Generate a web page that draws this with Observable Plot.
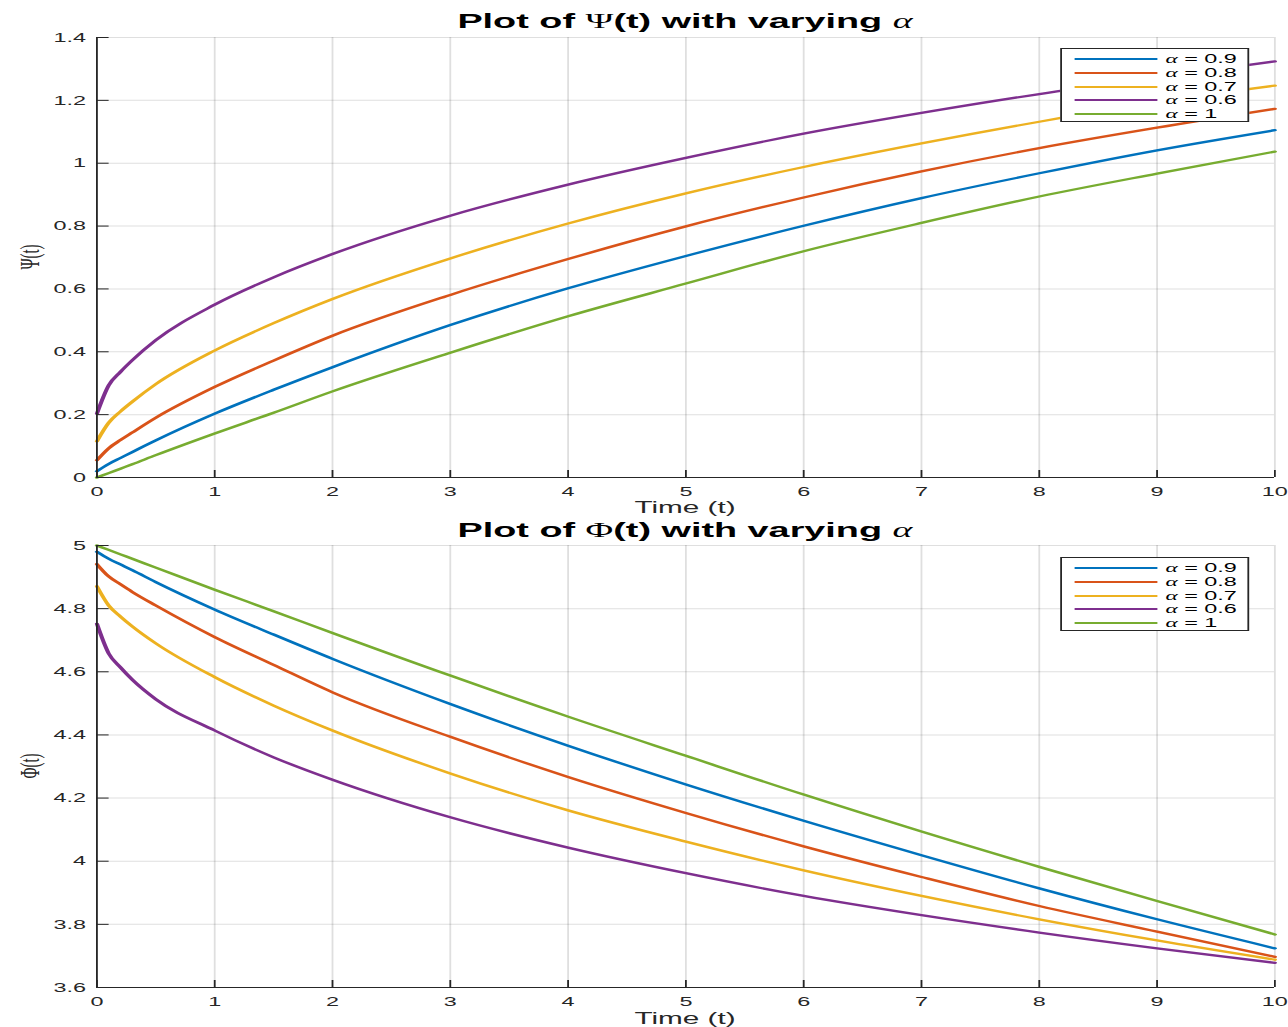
<!DOCTYPE html>
<html><head><meta charset="utf-8">
<script src="https://cdn.jsdelivr.net/npm/d3@7"></script>
<script src="https://cdn.jsdelivr.net/npm/@observablehq/plot@0.6"></script>
<style>
body{margin:0;background:#fff;overflow:hidden;}
#root{position:relative;width:715.56px;height:1027px;transform:scaleX(1.8);transform-origin:0 0;font-family:"Liberation Sans",Arial,Helvetica,sans-serif;color:#262626;}
.plot{position:absolute;left:0;}
.title{position:absolute;left:53.33px;width:654.45px;text-align:center;font-weight:bold;font-size:21px;line-height:21px;white-space:nowrap;color:#000;}
.sym{font-family:"Liberation Serif","DejaVu Serif",serif;font-weight:normal;}
.ital{font-family:"Liberation Serif","DejaVu Serif",serif;font-style:italic;font-weight:normal;}
.xlabel{position:absolute;left:53.33px;width:654.45px;text-align:center;font-size:16.5px;line-height:16.5px;white-space:nowrap;color:#262626;}
.ylabel{position:absolute;transform:translate(-50%,-50%) rotate(-90deg);font-family:"Liberation Serif","DejaVu Serif",serif;font-size:15px;white-space:nowrap;color:#262626;}
.legend{position:absolute;box-sizing:border-box;background:#fff;border:1px solid #262626;}
.lrow{position:absolute;left:0;width:100%;height:14px;}
.sw{position:absolute;left:7px;width:46px;height:2px;top:6px;}
.lt{position:absolute;left:57px;top:0;font-size:13px;line-height:14px;white-space:nowrap;color:#000;}
</style>
</head><body>
<div id="root"></div>
<script>
// ---- data ----
const tSamples = [0, 0.1, 0.2, 0.3, 0.5, 1, 1.5, 2, 3, 4, 5, 6, 7, 8, 9, 10];

const psi09 = [0.020, 0.043, 0.062, 0.081, 0.118, 0.203, 0.279, 0.351, 0.485, 0.602, 0.705, 0.801, 0.889, 0.968, 1.041, 1.105];
const psi08 = [0.055, 0.093, 0.119, 0.143, 0.190, 0.288, 0.372, 0.451, 0.581, 0.695, 0.799, 0.891, 0.974, 1.048, 1.113, 1.173];
const psi07 = [0.115, 0.174, 0.210, 0.241, 0.297, 0.404, 0.491, 0.568, 0.697, 0.808, 0.904, 0.988, 1.063, 1.132, 1.195, 1.247];
const psi06 = [0.203, 0.293, 0.336, 0.373, 0.437, 0.550, 0.637, 0.711, 0.833, 0.932, 1.017, 1.094, 1.160, 1.220, 1.273, 1.324];
const psi10 = [0.000, 0.014, 0.028, 0.042, 0.071, 0.140, 0.206, 0.274, 0.397, 0.513, 0.617, 0.720, 0.810, 0.894, 0.967, 1.037];

const phi09 = [4.980, 4.958, 4.940, 4.922, 4.884, 4.797, 4.718, 4.641, 4.498, 4.366, 4.243, 4.128, 4.019, 3.914, 3.816, 3.724];
const phi08 = [4.941, 4.902, 4.877, 4.853, 4.810, 4.710, 4.622, 4.535, 4.394, 4.267, 4.153, 4.047, 3.950, 3.858, 3.777, 3.697];
const phi07 = [4.871, 4.810, 4.775, 4.744, 4.690, 4.583, 4.493, 4.414, 4.278, 4.161, 4.062, 3.971, 3.890, 3.816, 3.749, 3.688];
const phi06 = [4.752, 4.658, 4.614, 4.575, 4.513, 4.414, 4.329, 4.258, 4.139, 4.043, 3.962, 3.890, 3.829, 3.774, 3.724, 3.678];
const phi10 = [5.000, 4.986, 4.972, 4.958, 4.930, 4.860, 4.792, 4.723, 4.588, 4.458, 4.334, 4.211, 4.094, 3.982, 3.874, 3.768];

const xTicks = [0, 1, 2, 3, 4, 5, 6, 7, 8, 9, 10];
const psiTicks = [0, 0.2, 0.4, 0.6, 0.8, 1, 1.2, 1.4];
const phiTicks = [3.6, 3.8, 4, 4.2, 4.4, 4.6, 4.8, 5];

const seriesAlpha = ["0.9", "0.8", "0.7", "0.6", "1"];
const seriesColors = ["#0072BD", "#D95319", "#EDB120", "#7E2F8E", "#77AC30"];

// ---- layout ----
const S = 1.8;            // horizontal stretch of the original figure
const W = 1288 / S;
const root = document.getElementById("root");
const fmt = d3.format("~g");

function rowsOf(arrs) {
  return arrs.flatMap((a, i) => a.map((v, j) => ({t: tSamples[j], v, s: seriesAlpha[i]})));
}

function makePlot(rows, domain, ticks, marginTop) {
  return Plot.plot({
    width: W, height: 520,
    marginTop, marginBottom: 43, marginLeft: 96 / S, marginRight: 14 / S,
    x: {domain: [0, 10]},
    y: {domain},
    color: {domain: seriesAlpha, range: seriesColors},
    style: {fontSize: "13px", fontFamily: "'Liberation Sans', Arial, Helvetica, sans-serif", color: "#262626", background: "transparent", overflow: "visible"},
    marks: [
      Plot.gridX({ticks: xTicks, stroke: "#262626", strokeOpacity: 0.15, strokeWidth: 1}),
      Plot.gridY({ticks, stroke: "#262626", strokeOpacity: 0.15, strokeWidth: 1}),
      Plot.line(rows, {x: "t", y: "v", z: "s", stroke: "s", strokeWidth: 2.3, curve: "monotone-x"}),
      Plot.ruleX([0], {stroke: "#262626", strokeWidth: 1}),
      Plot.ruleY([domain[0]], {stroke: "#262626", strokeWidth: 1}),
      Plot.axisX({ticks: xTicks, tickFormat: fmt, tickSize: -7, tickPadding: 16, label: null, stroke: "#262626", fill: "#262626"}),
      Plot.axisY({ticks, tickFormat: fmt, tickSize: -7, tickPadding: 13, label: null, stroke: "#262626", fill: "#262626"})
    ]
  });
}

function add(html) { root.insertAdjacentHTML("beforeend", html); }

function legend(top) {
  const rowsY = [3, 17, 31, 44, 58];
  let h = `<div class="legend" style="left:${1061 / S}px;top:${top}px;width:${188 / S}px;height:74px;">`;
  seriesAlpha.forEach((a, i) => {
    h += `<div class="lrow" style="top:${rowsY[i]}px"><div class="sw" style="background:${seriesColors[i]}"></div>` +
         `<div class="lt"><span class="ital">α</span> = ${a}</div></div>`;
  });
  return h + `</div>`;
}

// top panel
const p1 = makePlot(rowsOf([psi09, psi08, psi07, psi06, psi10]), [0, 1.4], psiTicks, 37);
p1.classList.add("plot"); p1.style.top = "0px";
root.appendChild(p1);
// bottom panel
const p2 = makePlot(rowsOf([phi09, phi08, phi07, phi06, phi10]), [3.6, 5], phiTicks, 35);
p2.classList.add("plot"); p2.style.top = "510px";
root.appendChild(p2);

add(`<div class="title" style="top:10px">Plot of <span class="sym">Ψ</span>(t) with varying <span class="ital">α</span></div>`);
add(`<div class="title" style="top:519px">Plot of <span class="sym">Φ</span>(t) with varying <span class="ital">α</span></div>`);
add(`<div class="xlabel" style="top:499px">Time (t)</div>`);
add(`<div class="xlabel" style="top:1010px">Time (t)</div>`);
add(`<div class="ylabel" style="left:${30 / S}px;top:257px">Ψ(t)</div>`);
add(`<div class="ylabel" style="left:${30 / S}px;top:766px">Φ(t)</div>`);
add(legend(48));
add(legend(557));
</script>
</body></html>
